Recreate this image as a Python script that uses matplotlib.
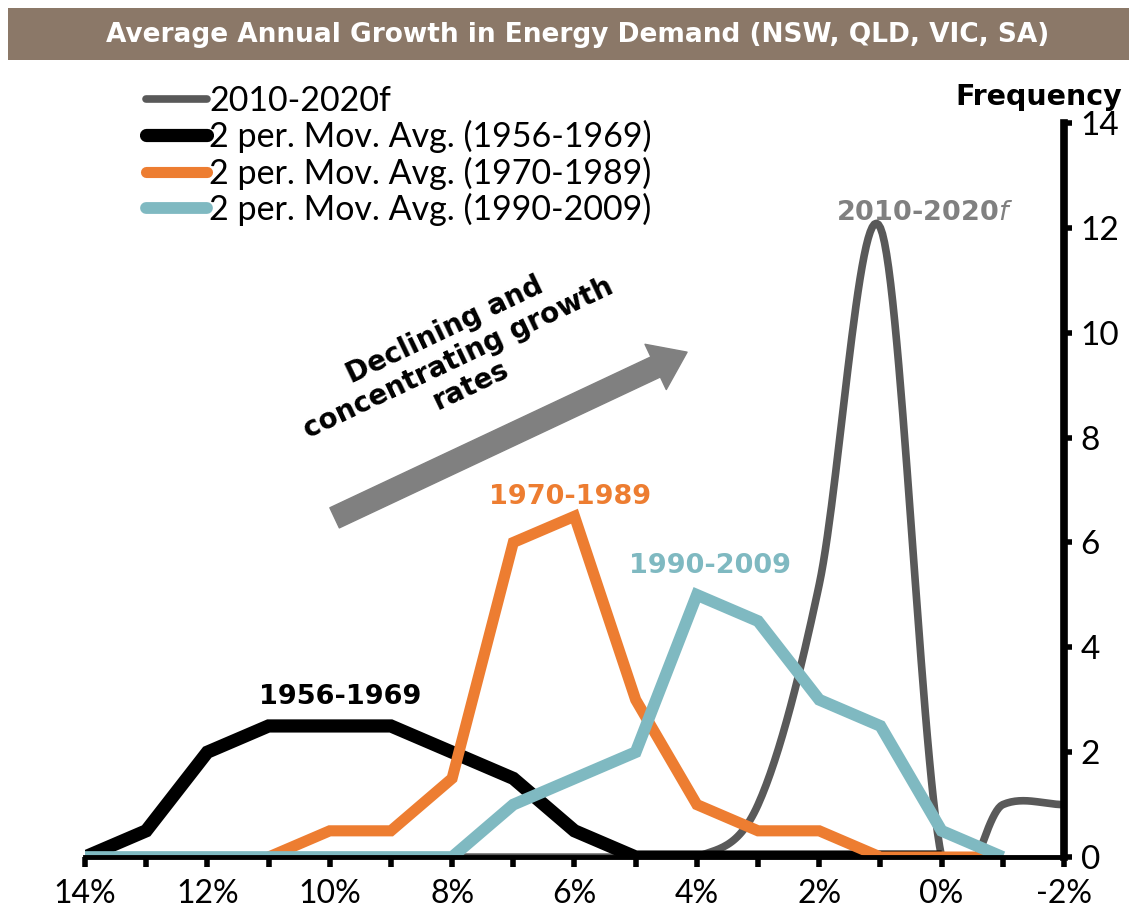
import numpy as np
import matplotlib.pyplot as plt
from matplotlib.patches import Rectangle

# growth rate buckets (%), x axis runs from high growth to low growth
growth_all = [14, 13, 12, 11, 10, 9, 8, 7, 6, 5, 4, 3, 2, 1, 0, -1, -2]
freq_2010_2020f = [0, 0, 0, 0, 0, 0, 0, 0, 0, 0, 0, 1, 5.2, 12, 0, 1, 1]

growth_1956 = [14, 13, 12, 11, 10, 9, 8, 7, 6, 5, 4, 3, 2, 1, 0]
freq_1956_1969 = [0, 0.5, 2, 2.5, 2.5, 2.5, 2, 1.5, 0.5, 0, 0, 0, 0, 0, 0]

growth_1970 = [11, 10, 9, 8, 7, 6, 5, 4, 3, 2, 1, 0, -1]
freq_1970_1989 = [0, 0.5, 0.5, 1.5, 6, 6.5, 3, 1, 0.5, 0.5, 0, 0, 0]

growth_1990 = [14, 13, 12, 11, 10, 9, 8, 7, 6, 5, 4, 3, 2, 1, 0, -1]
freq_1990_2009 = [0, 0, 0, 0, 0, 0, 0, 1, 1.5, 2, 5, 4.5, 3, 2.5, 0.5, 0]

series_names = ['2010-2020f', '2 per. Mov. Avg. (1956-1969)',
                '2 per. Mov. Avg. (1970-1989)', '2 per. Mov. Avg. (1990-2009)']
title = 'Average Annual Growth in Energy Demand (NSW, QLD, VIC, SA)'

c_grey = '#595959'
c_black = '#000000'
c_orange = '#ED7D31'
c_teal = '#7FB9C1'
c_banner = '#8B7868'


def smooth(x, y, n=30):
    # catmull-rom style smoothing like excel's smoothed line
    x = np.asarray(x, float)
    y = np.asarray(y, float)
    m = np.zeros_like(y)
    m[1:-1] = (y[2:] - y[:-2]) / 2
    m[0] = y[1] - y[0]
    m[-1] = y[-1] - y[-2]
    xs, ys = [], []
    for i in range(len(x) - 1):
        t = np.linspace(0, 1, n, endpoint=False)
        h00 = 2 * t**3 - 3 * t**2 + 1
        h10 = t**3 - 2 * t**2 + t
        h01 = -2 * t**3 + 3 * t**2
        h11 = t**3 - t**2
        xs.append(x[i] + (x[i + 1] - x[i]) * t)
        ys.append(h00 * y[i] + h10 * m[i] + h01 * y[i + 1] + h11 * m[i + 1])
    xs.append([x[-1]])
    ys.append([y[-1]])
    return np.concatenate(xs), np.concatenate(ys)


fig = plt.figure(figsize=(11.42, 9.10), dpi=100)
ax = fig.add_axes([0.0744, 0.0582, 0.8573, 0.8066])

# title banner
fig.patches.append(Rectangle((0.007, 0.934), 0.982, 0.057, transform=fig.transFigure,
                             facecolor=c_banner, edgecolor='none'))
fig.text(0.506, 0.961, title, color='white', fontsize=19, fontweight='bold',
         ha='center', va='center', family='DejaVu Sans')

sx, sy = smooth(growth_all, freq_2010_2020f)
ax.plot(sx, sy, color=c_grey, lw=5.5, label=series_names[0], solid_capstyle='butt')
ax.plot(growth_1956, freq_1956_1969, color=c_black, lw=9.5, label=series_names[1],
        solid_capstyle='butt', solid_joinstyle='miter')
ax.plot(growth_1970, freq_1970_1989, color=c_orange, lw=8, label=series_names[2],
        solid_capstyle='butt', solid_joinstyle='miter')
ax.plot(growth_1990, freq_1990_2009, color=c_teal, lw=8.5, label=series_names[3],
        solid_capstyle='butt', solid_joinstyle='miter')

ax.set_xlim(14, -2)
ax.set_ylim(0, 14)

ax.spines['left'].set_visible(False)
ax.spines['top'].set_visible(False)
ax.spines['bottom'].set_linewidth(3.5)
ax.spines['right'].set_linewidth(5.5)

ax.set_xticks(growth_all)
ax.set_xticklabels([f'{g}%' if g % 2 == 0 else '' for g in growth_all])
ax.set_yticks(range(0, 15, 2))
ax.yaxis.tick_right()
ax.tick_params(axis='x', direction='out', length=7, width=4, pad=9, labelsize=23)
ax.tick_params(axis='y', direction='out', length=6, width=4, pad=6, labelsize=24)
for lab in ax.get_xticklabels() + ax.get_yticklabels():
    lab.set_family('Lato')

fig.text(0.983, 0.893, 'Frequency', fontsize=20.5, fontweight='bold', ha='right',
         va='center', family='DejaVu Sans')

# series labels
ax.text(9.83, 3.05, '1956-1969', color=c_black, fontsize=19.5, fontweight='bold',
        ha='center', va='center')
ax.text(6.08, 6.87, '1970-1989', color=c_orange, fontsize=19.5, fontweight='bold',
        ha='center', va='center')
ax.text(3.79, 5.55, '1990-2009', color=c_teal, fontsize=19.5, fontweight='bold',
        ha='center', va='center')
ax.text(0.27, 12.28, r'2010-2020$\it{f}$', color='#808080', fontsize=19.5,
        fontweight='bold', ha='center', va='center')

# arrow + annotation
ax.annotate('', xy=(4.16, 9.63), xytext=(9.92, 6.47),
            arrowprops=dict(arrowstyle='simple,tail_width=0.8,head_width=1.8,head_length=1.25',
                            mutation_scale=20, color='#808080', shrinkA=0, shrinkB=0))
ax.text(7.9, 9.52, 'Declining and\nconcentrating growth\nrates', fontsize=20,
        fontweight='bold', ha='center', va='center', rotation=25.5,
        rotation_mode='anchor', linespacing=1.1)

leg = ax.legend(loc='upper left', bbox_to_anchor=(0.128, 0.907),
                bbox_transform=fig.transFigure, frameon=False,
                handlelength=1.8, handletextpad=0.05, labelspacing=0.1,
                borderpad=0, borderaxespad=0, prop={'family': 'Lato', 'size': 24.5})
for h in leg.get_lines():
    h.set_solid_capstyle('round')

fig.savefig('out.png', dpi=100)
